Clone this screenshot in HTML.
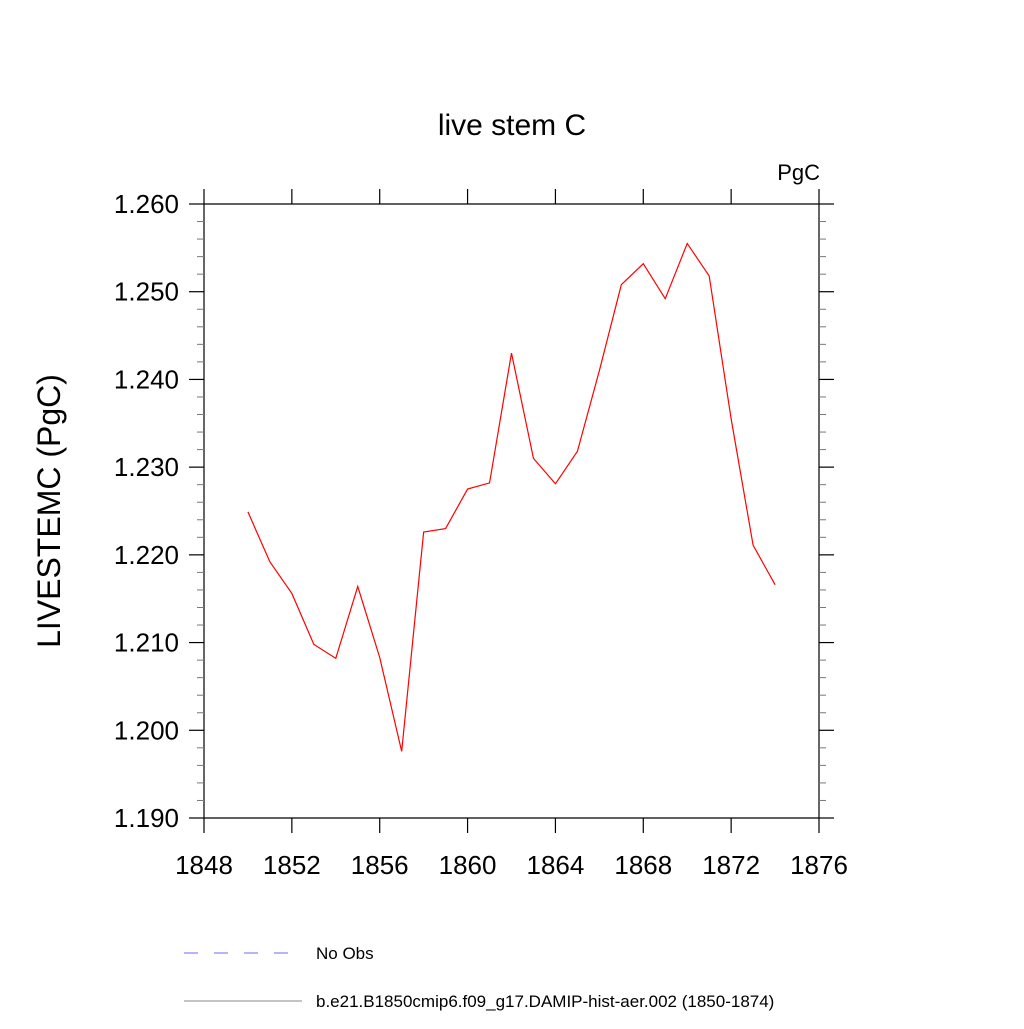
<!DOCTYPE html>
<html><head><meta charset="utf-8"><style>body{margin:0;background:#fff}svg text{font-family:"Liberation Sans",sans-serif}</style></head>
<body>
<svg width="1024" height="1024" xmlns="http://www.w3.org/2000/svg">
<text x="512" y="135" font-size="30" text-anchor="middle">live stem C</text>
<text x="820" y="180" font-size="22" text-anchor="end">PgC</text>
<text transform="translate(60,511) rotate(-90)" font-size="32" text-anchor="middle">LIVESTEMC  (PgC)</text>
<g id="axes"></g>
<polyline id="series" fill="none" stroke="#ff0000" stroke-width="1.2"/>
<line x1="184" y1="953" x2="292" y2="953" stroke="#6a6aff" stroke-width="1" stroke-dasharray="14,16"/>
<text x="316" y="959" font-size="17">No Obs</text>
<line x1="184" y1="1001" x2="302" y2="1001" stroke="#888" stroke-width="1"/>
<text x="316" y="1007" font-size="17">b.e21.B1850cmip6.f09_g17.DAMIP-hist-aer.002 (1850-1874)</text>
</svg>
<script>
const years=[1850,1851,1852,1853,1854,1855,1856,1857,1858,1859,1860,1861,1862,1863,1864,1865,1866,1867,1868,1869,1870,1871,1872,1873,1874];
const values=[1.2249,1.2192,1.2156,1.2098,1.2082,1.2164,1.2083,1.1976,1.2226,1.2230,1.2275,1.2282,1.2430,1.2310,1.2281,1.2318,1.2410,1.2508,1.2532,1.2492,1.2555,1.2518,1.2355,1.2211,1.2166];
const xTicks=[1848,1852,1856,1860,1864,1868,1872,1876];
const yTicks=[1.19,1.20,1.21,1.22,1.23,1.24,1.25,1.26];
const L=204,R=819,T=204,B=818,x0=1848,x1=1876,y0=1.19,y1=1.26;
const sx=v=>L+(v-x0)/(x1-x0)*(R-L), sy=v=>B-(v-y0)/(y1-y0)*(B-T);
const NS="http://www.w3.org/2000/svg",g=document.getElementById('axes');
function ln(a,b,c,d,w,col,n){const e=document.createElementNS(NS,'line');e.setAttribute('x1',a);e.setAttribute('y1',b);e.setAttribute('x2',c);e.setAttribute('y2',d);e.setAttribute('stroke',col);e.setAttribute('stroke-width',w);


g.appendChild(e);}
ln(L,T,R,T,1.2,'#000','frame-top');ln(L,B,R,B,1.2,'#000','frame-bottom');ln(L,T,L,B,1.2,'#000','frame-left');ln(R,T,R,B,1.2,'#000','frame-right');
xTicks.forEach(v=>{const x=sx(v);ln(x,B,x,B+15,1.2,'#000','x-tick');ln(x,T,x,T-15,1.2,'#000','x-tick-top');
const t=document.createElementNS(NS,'text');t.setAttribute('x',x);t.setAttribute('y',B+56);t.setAttribute('font-size','26');t.setAttribute('text-anchor','middle');t.textContent=v;


g.appendChild(t);});
yTicks.forEach((v,i)=>{const y=sy(v);ln(L,y,L-15,y,1.2,'#000','y-tick');ln(R,y,R+15,y,1.2,'#000','y-tick-right');
if(i<yTicks.length-1)for(let k=1;k<5;k++){const yy=sy(v+k*0.002);ln(L,yy,L-7,yy,1,'#777','y-minor-tick');ln(R,yy,R+7,yy,1,'#777','y-minor-tick-right');}
const t=document.createElementNS(NS,'text');t.setAttribute('x',L-25);t.setAttribute('y',y+9);t.setAttribute('font-size','26');t.setAttribute('text-anchor','end');t.textContent=v.toFixed(3);


g.appendChild(t);});
document.getElementById('series').setAttribute('points',years.map((y,i)=>sx(y)+','+sy(values[i])).join(' '));
</script>
</body></html>
